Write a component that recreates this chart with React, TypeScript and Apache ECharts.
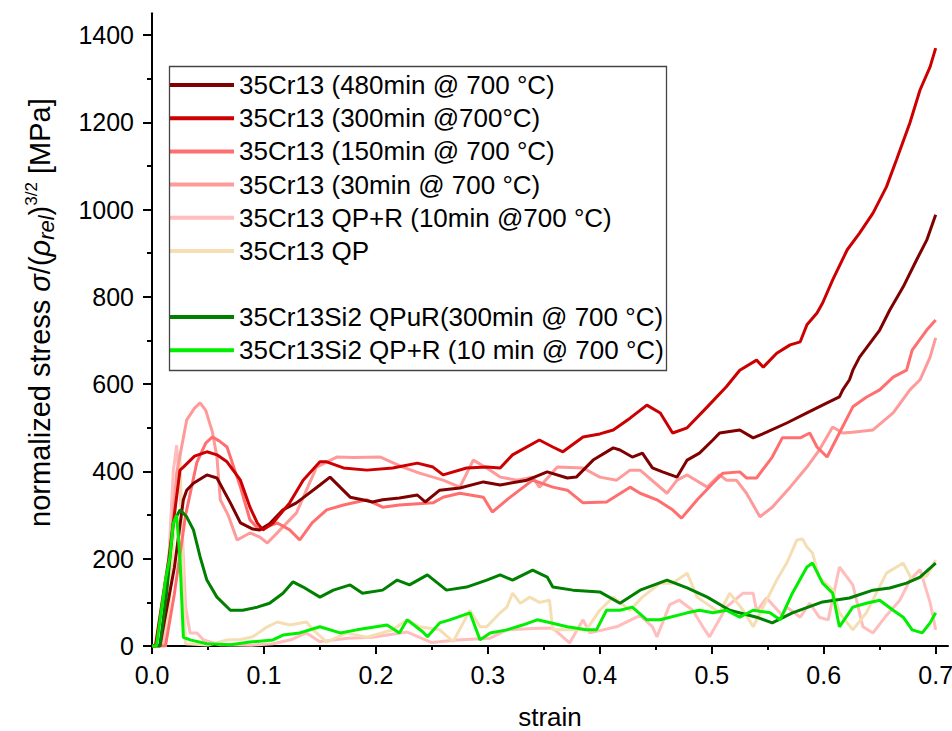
import React, { useEffect, useRef } from "react";
import * as echarts from "echarts";

const FONT = 'Arial, "Liberation Sans", sans-serif';

const seriesNames = [
  "35Cr13 (480min @ 700 °C)",
  "35Cr13 (300min @700°C)",
  "35Cr13 (150min @ 700 °C)",
  "35Cr13 (30min @ 700 °C)",
  "35Cr13 QP+R (10min @700 °C)",
  "35Cr13 QP",
  "35Cr13Si2 QPuR(300min @ 700 °C)",
  "35Cr13Si2 QP+R (10 min @ 700 °C)",
];
const seriesColors = ["#800000", "#cc0000", "#ff6f6f", "#ff9a9a", "#ffbdbd", "#f5deb3", "#008000", "#00ee00"];

const strain480 = [0, 0.007, 0.02, 0.028, 0.031, 0.037, 0.049, 0.058, 0.07, 0.079, 0.09, 0.096, 0.105, 0.117, 0.129, 0.15, 0.159, 0.177, 0.188, 0.197, 0.206, 0.221, 0.237, 0.244, 0.257, 0.275, 0.296, 0.311, 0.335, 0.353, 0.371, 0.379, 0.394, 0.412, 0.418, 0.429, 0.438, 0.447, 0.456, 0.469, 0.478, 0.489, 0.501, 0.507, 0.525, 0.537, 0.549, 0.567, 0.585, 0.603, 0.614, 0.617, 0.623, 0.626, 0.632, 0.65, 0.659, 0.671, 0.683, 0.692, 0.7];
const stress480 = [0, 0, 180, 335, 357, 373, 392, 385, 328, 282, 268, 266, 280, 312, 328, 369, 387, 341, 335, 330, 335, 339, 346, 330, 357, 362, 376, 369, 380, 399, 385, 387, 426, 454, 449, 433, 442, 408, 399, 387, 426, 442, 472, 488, 495, 477, 490, 511, 534, 557, 571, 587, 610, 632, 662, 724, 770, 823, 885, 930, 988];

const strain300 = [0, 0.003, 0.015, 0.025, 0.028, 0.038, 0.049, 0.058, 0.067, 0.079, 0.0875, 0.094, 0.099, 0.108, 0.123, 0.135, 0.15, 0.156, 0.171, 0.192, 0.215, 0.237, 0.251, 0.26, 0.281, 0.299, 0.311, 0.322, 0.346, 0.358, 0.367, 0.385, 0.4, 0.412, 0.427, 0.442, 0.454, 0.465, 0.478, 0.496, 0.513, 0.525, 0.54, 0.546, 0.558, 0.57, 0.579, 0.585, 0.594, 0.599, 0.608, 0.621, 0.632, 0.644, 0.656, 0.665, 0.677, 0.686, 0.695, 0.7];
const stress300 = [0, 0, 200, 403, 410, 435, 445, 438, 422, 380, 318, 282, 266, 282, 328, 380, 422, 422, 408, 403, 408, 419, 410, 392, 408, 410, 408, 438, 472, 456, 445, 479, 486, 495, 522, 552, 534, 488, 500, 548, 594, 632, 655, 639, 671, 690, 697, 736, 763, 786, 839, 908, 946, 992, 1052, 1114, 1199, 1274, 1327, 1370];

const strain150 = [0, 0.012, 0.02, 0.03, 0.04, 0.048, 0.054, 0.06, 0.067, 0.079, 0.0875, 0.096, 0.112, 0.123, 0.132, 0.143, 0.156, 0.171, 0.192, 0.206, 0.221, 0.251, 0.26, 0.275, 0.296, 0.304, 0.317, 0.34, 0.358, 0.371, 0.385, 0.406, 0.427, 0.436, 0.451, 0.465, 0.473, 0.487, 0.501, 0.51, 0.525, 0.531, 0.54, 0.554, 0.563, 0.579, 0.5875, 0.594, 0.603, 0.614, 0.626, 0.638, 0.65, 0.662, 0.674, 0.679, 0.692, 0.7];
const stress150 = [0, 0, 120, 300, 420, 465, 479, 470, 456, 364, 289, 266, 282, 266, 243, 282, 312, 323, 335, 318, 323, 328, 341, 350, 341, 307, 335, 380, 364, 357, 328, 330, 364, 350, 335, 312, 293, 335, 373, 396, 399, 385, 385, 433, 477, 477, 488, 456, 433, 488, 548, 570, 587, 616, 632, 678, 724, 747];

const strain30 = [0, 0.008, 0.015, 0.022, 0.031, 0.038, 0.043, 0.048, 0.054, 0.058, 0.061, 0.068, 0.076, 0.0875, 0.096, 0.103, 0.117, 0.129, 0.147, 0.165, 0.18, 0.204, 0.224, 0.239, 0.26, 0.275, 0.287, 0.299, 0.311, 0.326, 0.34, 0.346, 0.362, 0.385, 0.4, 0.415, 0.427, 0.436, 0.46, 0.469, 0.478, 0.496, 0.507, 0.513, 0.522, 0.531, 0.543, 0.554, 0.57, 0.585, 0.596, 0.608, 0.617, 0.626, 0.644, 0.662, 0.677, 0.686, 0.695, 0.7];
const stress30 = [0, 0, 180, 396, 518, 545, 557, 540, 490, 433, 335, 300, 243, 259, 250, 236, 273, 305, 410, 433, 432, 433, 410, 396, 380, 364, 426, 408, 387, 380, 387, 364, 410, 408, 387, 380, 403, 403, 350, 380, 392, 364, 392, 380, 380, 350, 296, 318, 364, 410, 449, 502, 488, 490, 495, 534, 587, 610, 662, 706];

const strainQPR = [0, 0.01, 0.015, 0.019, 0.022, 0.026, 0.03, 0.034, 0.04, 0.046, 0.06, 0.09, 0.108, 0.125, 0.138, 0.15, 0.175, 0.197, 0.228, 0.25, 0.272, 0.302, 0.317, 0.34, 0.358, 0.373, 0.385, 0.391, 0.415, 0.436, 0.447, 0.451, 0.4625, 0.471, 0.483, 0.492, 0.498, 0.513, 0.528, 0.537, 0.54, 0.549, 0.563, 0.567, 0.579, 0.5875, 0.596, 0.604, 0.614, 0.626, 0.635, 0.644, 0.656, 0.668, 0.677, 0.686, 0.695, 0.7];
const stressQPR = [0, 0, 200, 400, 460, 320, 90, 30, 30, 14, 3, 2, 5, 15, 30, 10, 18, 20, 32, 8, 14, 18, 37, 40, 41, 7, 60, 30, 44, 70, 44, 21, 95, 105, 82, 44, 21, 89, 121, 121, 80, 110, 70, 89, 66, 98, 66, 60, 181, 140, 44, 30, 70, 105, 151, 175, 100, 37];

const strainQP = [0, 0.012, 0.017, 0.021, 0.025, 0.028, 0.03, 0.05, 0.067, 0.079, 0.09, 0.103, 0.112, 0.123, 0.138, 0.144, 0.156, 0.174, 0.192, 0.215, 0.228, 0.239, 0.257, 0.269, 0.284, 0.293, 0.299, 0.311, 0.317, 0.322, 0.329, 0.3375, 0.346, 0.355, 0.358, 0.373, 0.388, 0.4, 0.412, 0.427, 0.438, 0.454, 0.465, 0.478, 0.487, 0.507, 0.516, 0.528, 0.537, 0.549, 0.558, 0.567, 0.576, 0.581, 0.585, 0.59, 0.596, 0.608, 0.614, 0.626, 0.638, 0.656, 0.671, 0.679, 0.692, 0.7];
const stressQP = [0, 0, 150, 330, 437, 128, 5, 2, 14, 15, 21, 44, 55, 48, 55, 37, 9, 30, 20, 37, 60, 44, 37, 10, 82, 44, 44, 76, 89, 121, 98, 112, 100, 105, 37, 37, 37, 82, 112, 82, 112, 144, 144, 167, 112, 76, 121, 82, 44, 105, 151, 190, 243, 245, 227, 213, 158, 128, 76, 37, 76, 167, 190, 151, 160, 197];

const strainSi300 = [0, 0.007, 0.013, 0.019, 0.025, 0.031, 0.037, 0.043, 0.049, 0.058, 0.07, 0.081, 0.094, 0.105, 0.117, 0.126, 0.135, 0.15, 0.162, 0.177, 0.188, 0.206, 0.219, 0.23, 0.246, 0.263, 0.281, 0.299, 0.311, 0.322, 0.34, 0.353, 0.358, 0.376, 0.4, 0.418, 0.436, 0.46, 0.478, 0.496, 0.516, 0.54, 0.554, 0.572, 0.599, 0.623, 0.644, 0.659, 0.674, 0.686, 0.7];
const stressSi300 = [0, 0, 120, 282, 312, 296, 266, 204, 151, 112, 82, 82, 89, 98, 121, 147, 135, 112, 128, 140, 121, 128, 151, 140, 163, 128, 135, 151, 163, 151, 174, 158, 135, 128, 124, 98, 128, 151, 133, 112, 82, 66, 53, 76, 101, 110, 128, 133, 144, 158, 190];

const strainSi10 = [0, 0.004, 0.012, 0.016, 0.019, 0.022, 0.025, 0.028, 0.034, 0.049, 0.07, 0.0875, 0.108, 0.117, 0.132, 0.15, 0.168, 0.183, 0.21, 0.221, 0.228, 0.242, 0.246, 0.257, 0.266, 0.284, 0.293, 0.302, 0.317, 0.331, 0.344, 0.353, 0.371, 0.388, 0.397, 0.406, 0.418, 0.429, 0.442, 0.454, 0.478, 0.489, 0.501, 0.513, 0.525, 0.537, 0.552, 0.561, 0.572, 0.585, 0.59, 0.599, 0.608, 0.614, 0.626, 0.638, 0.65, 0.662, 0.671, 0.679, 0.688, 0.695, 0.7];
const stressSi10 = [0, 0, 150, 204, 280, 300, 200, 20, 14, 5, 3, 9, 14, 25, 30, 44, 30, 37, 48, 30, 60, 32, 21, 53, 60, 76, 14, 30, 37, 48, 60, 55, 44, 37, 37, 82, 82, 89, 60, 60, 76, 82, 76, 82, 66, 82, 76, 60, 121, 181, 190, 144, 121, 44, 89, 98, 105, 82, 66, 37, 30, 53, 76];

const xMajorTicks = [0, 0.1, 0.2, 0.3, 0.4, 0.5, 0.6, 0.7];
const xMinorTicks = [0.05, 0.15, 0.25, 0.35, 0.45, 0.55, 0.65];
const yMajorTicks = [0, 200, 400, 600, 800, 1000, 1200, 1400];
const yMinorTicks = [100, 300, 500, 700, 900, 1100, 1300];

const allStrain = [strain480, strain300, strain150, strain30, strainQPR, strainQP, strainSi300, strainSi10];
const allStress = [stress480, stress300, stress150, stress30, stressQPR, stressQP, stressSi300, stressSi10];
// drawing order (back to front)
const drawOrder = [4, 5, 3, 2, 0, 1, 6, 7];

const X_MAX = 0.711;
const Y_MAX = 1450;

export default function App() {
  const ref = useRef<HTMLDivElement>(null);
  useEffect(() => {
    if (!ref.current) return;
    const chart = echarts.init(ref.current, null, { renderer: "svg" });
    const series = drawOrder.map((i) => ({
      type: "line",
      name: seriesNames[i],
      data: allStrain[i].map((x, k) => [x, allStress[i][k]]),
      symbol: "none",
      showSymbol: false,
      lineStyle: { width: 3, color: seriesColors[i] },
      itemStyle: { color: seriesColors[i] },
      emphasis: { disabled: true },
      z: 2,
    }));
    const legendBase = {
      orient: "vertical",
      left: 170,
      icon: "rect",
      itemWidth: 64,
      itemHeight: 4,
      itemGap: 7.2,
      padding: 0,
      selectedMode: false,
      textStyle: { fontSize: 26, lineHeight: 26, color: "#000", fontFamily: FONT },
    };
    const option = {
      animation: false,
      backgroundColor: "#fff",
      grid: { left: 152, top: 13.2, right: 4, bottom: 85, containLabel: false, outerBoundsMode: "none" },
      legend: [
        { ...legendBase, top: 72, data: seriesNames.slice(0, 6) },
        { ...legendBase, top: 304, data: seriesNames.slice(6) },
      ],
      xAxis: [
        {
          type: "value",
          min: 0,
          max: X_MAX,
          position: "bottom",
          name: "strain",
          nameLocation: "middle",
          nameGap: 58,
          nameTextStyle: { fontSize: 26, color: "#000", fontFamily: FONT },
          axisLine: { show: true, onZero: false, lineStyle: { color: "#000", width: 2 } },
          axisTick: { show: true, inside: false, customValues: xMajorTicks, length: 8, lineStyle: { color: "#000", width: 2 } },
          axisLabel: {
            customValues: xMajorTicks,
            formatter: (v: number) => v.toFixed(1),
            fontSize: 25,
            color: "#000",
            fontFamily: FONT,
            margin: 16,
            hideOverlap: false,
          },
          splitLine: { show: false },
        },
        {
          type: "value",
          min: 0,
          max: X_MAX,
          position: "bottom",
          axisLine: { show: false, onZero: false },
          axisTick: { show: true, inside: false, customValues: xMinorTicks, length: 4, lineStyle: { color: "#000", width: 2 } },
          axisLabel: { show: false },
          splitLine: { show: false },
        },
      ],
      yAxis: [
        {
          type: "value",
          min: 0,
          max: Y_MAX,
          position: "left",
          name: "normalized stress {it|σ}/({it|ρ}{sub|rel}){sup|3/2} [MPa]",
          nameLocation: "middle",
          nameGap: 95,
          nameTextStyle: {
            fontSize: 29,
            lineHeight: 34,
            color: "#000",
            fontFamily: FONT,
            padding: [0, 0, 0, 34],
            rich: {
              it: { fontSize: 29, lineHeight: 34, fontStyle: "italic", color: "#000", fontFamily: FONT },
              sub: { fontSize: 22, lineHeight: 25, fontStyle: "italic", verticalAlign: "bottom", color: "#000", fontFamily: FONT },
              sup: { fontSize: 17, lineHeight: 29, verticalAlign: "top", color: "#000", fontFamily: FONT },
            },
          },
          axisLine: { show: true, onZero: false, lineStyle: { color: "#000", width: 2 } },
          axisTick: { show: true, inside: false, customValues: yMajorTicks, length: 9, lineStyle: { color: "#000", width: 2 } },
          axisLabel: {
            customValues: yMajorTicks,
            formatter: (v: number) => String(v),
            fontSize: 25,
            color: "#000",
            fontFamily: FONT,
            margin: 18,
          },
          splitLine: { show: false },
        },
        {
          type: "value",
          min: 0,
          max: Y_MAX,
          position: "left",
          axisLine: { show: false, onZero: false },
          axisTick: { show: true, inside: false, customValues: yMinorTicks, length: 5, lineStyle: { color: "#000", width: 2 } },
          axisLabel: { show: false },
          splitLine: { show: false },
        },
      ],
      graphic: [
        {
          type: "rect",
          silent: true,
          z: 100,
          shape: { x: 169.5, y: 66.5, width: 497, height: 304 },
          style: { fill: "none", stroke: "#444", lineWidth: 1.3 },
        },
      ],
      series,
    };
    chart.setOption(option as any);
    return () => chart.dispose();
  }, []);
  return (
    <div
      ref={ref}
      style={{ position: "fixed", left: 0, top: 0, width: 952, height: 731, background: "#fff" }}
    />
  );
}
